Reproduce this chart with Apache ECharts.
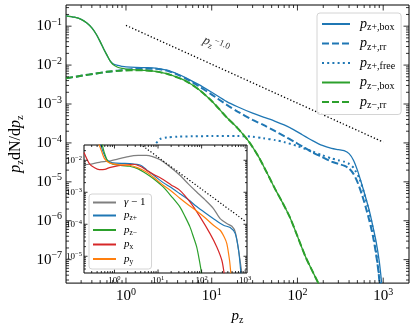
<!DOCTYPE html>
<html><head><meta charset="utf-8">
<script src="https://cdn.jsdelivr.net/npm/echarts@6/dist/echarts.min.js"></script>
<style>html,body{margin:0;padding:0;background:#fff}#c{width:415px;height:330px}</style>
</head><body><div id="c"></div>
<script>
// ---------- main panel data ----------
const boxPlusP = [0.2,0.25,0.3,0.35,0.4,0.45,0.5,0.55,0.6,0.65,0.7,0.8,0.9,1.0,1.3,1.7,2.2,3.0,4.0,5.0,7.0,10,15,20,30,40,55,70,90,115,150,195,250,300,350,400,450,500,560,620,690,760,830,900,960];
const boxPlusY = [0.185,0.17,0.15,0.12,0.09,0.062,0.04,0.026,0.018,0.013,0.011,0.0098,0.0093,0.009,0.0087,0.0086,0.0084,0.0074,0.0059,0.0047,0.0032,0.002,0.00115,8.5e-4,5.8e-4,4.6e-4,3.6e-4,2.9e-4,2.2e-4,1.6e-4,1.15e-4,8.6e-5,7.2e-5,6.7e-5,6.3e-5,5.3e-5,3.6e-5,2.0e-5,9e-6,4.2e-6,1.8e-6,7e-7,2.8e-7,9e-8,2.5e-8];
const rrPlusP = [0.2,0.3,0.45,0.6,0.8,1.0,1.3,1.7,2.2,3.0,4.0,5.0,7.0,10,15,20,30,40,55,70,90,115,150,195,250,300,350,400,450,500,560,620,690,760,830,880,910];
const rrPlusY = [0.0046,0.0053,0.0061,0.0067,0.0072,0.0076,0.008,0.0081,0.008,0.0072,0.0057,0.0045,0.0029,0.00175,9.5e-4,6.4e-4,3.9e-4,2.9e-4,2.0e-4,1.5e-4,1.1e-4,8e-5,5.7e-5,4.3e-5,3.3e-5,2.9e-5,2.6e-5,2.2e-5,1.6e-5,1.0e-5,5e-6,2.4e-6,1.0e-6,4e-7,1.3e-7,5e-8,2.4e-8];
const freePlusP = [1,1.5,2,2.5,3,4,6,10,20,30,40,55,70,100,150,195,250,300,350,400,450,530,600,680,760,830,880,920];
const freePlusY = [2e-6,2e-5,7e-5,1.25e-4,1.38e-4,1.45e-4,1.48e-4,1.5e-4,1.5e-4,1.45e-4,1.32e-4,1.18e-4,1.05e-4,8.3e-5,6e-5,4.8e-5,4e-5,3.6e-5,3.3e-5,2.9e-5,2.3e-5,1.2e-5,5e-6,1.8e-6,6e-7,1.5e-7,5.5e-8,2.4e-8];
const boxMinusP = [0.2,0.25,0.3,0.35,0.4,0.45,0.5,0.55,0.6,0.65,0.7,0.8,0.9,1.0,1.3,1.7,2.2,3.0,4.0,5.0,7.0,10,15,20,27,35,43,55,65,82,100,125,150,180];
const boxMinusY = [0.185,0.17,0.15,0.12,0.09,0.062,0.04,0.026,0.018,0.013,0.0105,0.0088,0.0082,0.0079,0.0075,0.0073,0.0069,0.006,0.0048,0.0039,0.0024,0.0012,4.5e-4,2.4e-4,1.1e-4,4.5e-5,1.9e-5,6.5e-6,3.3e-6,1.2e-6,4e-7,1.15e-7,5e-8,2.2e-8];
const rrMinusP = [0.2,0.3,0.45,0.6,0.8,1.0,1.3,1.7,2.2,3.0,4.0,5.0,7.0,10,15,20,27,35,43,55,65,82,100,125,150,180];
const rrMinusY = [0.0046,0.0053,0.0061,0.0067,0.0071,0.0073,0.0074,0.0073,0.0069,0.006,0.0048,0.0039,0.0024,0.0012,4.5e-4,2.4e-4,1.1e-4,4.5e-5,1.9e-5,6.5e-6,3.3e-6,1.2e-6,4e-7,1.15e-7,5e-8,2.2e-8];
const refP = [1, 1000];
const refY = [0.105, 1.05e-4];

// ---------- inset data ----------
const gammaP = [0.2,0.265,0.45,0.77,1.3,2.22,3.5,5.4,7.5,10.9,18,31.7,50,77,120,187,266,379,495,591,705,841];
const gammaY = [7.2e-3,7.5e-3,8.65e-3,9.5e-3,0.0112,0.0133,0.0142,0.0143,0.013,0.0105,6.5e-3,3.4e-3,1.8e-3,1.02e-3,5.8e-4,3.1e-4,1.5e-4,1.05e-4,8.65e-5,5.75e-5,1.54e-5,2.9e-6];
const zPlusP = [0.2,0.3,0.4,0.45,0.55,0.67,0.8,0.92,1.5,2.22,4,5.4,8,13.1,20,31.7,50,77,120,187,318,453,591,705,798];
const zPlusY = [0.18,0.15,0.07,0.042,0.018,0.0103,0.0088,0.0083,0.008,0.0079,0.007,0.0051,0.0034,0.002,0.0014,9e-4,5.8e-4,3.6e-4,2.3e-4,1.5e-4,9.3e-5,7.9e-5,5.1e-5,1.54e-5,2.9e-6];
const zMinusP = [0.2,0.3,0.4,0.49,0.58,0.7,0.92,1.5,2.22,3.5,5.4,8,13.1,20,31.7,42,54,65,77,88,100];
const zMinusY = [0.18,0.15,0.08,0.042,0.018,0.0095,0.0075,0.0068,0.0065,0.0054,0.0038,0.0026,0.00147,7.6e-4,3.5e-4,1.7e-4,8.3e-5,4e-5,1.96e-5,8e-6,2.9e-6];
const pxP = [0.2,0.265,0.35,0.45,0.6,0.77,1.1,1.56,2.65,4,5.4,8,13.1,20,31.7,54,92,156,223,291,329];
const pxY = [0.0175,0.0079,0.0058,0.0051,0.0052,0.0059,0.0066,0.007,0.0075,0.0064,0.0049,0.0036,0.0025,0.0017,0.00115,5e-4,1.7e-4,5.1e-5,1.96e-5,7.5e-6,2.9e-6];
const pyP = [0.2,0.3,0.35,0.41,0.5,0.59,0.77,1.2,2.22,3.5,5.4,8,13.1,20,31.7,50,77,120,187,266,330,379,437,469];
const pyY = [0.25,0.15,0.08,0.042,0.02,0.0113,0.0083,0.0073,0.007,0.0058,0.0043,0.0029,0.00166,0.0011,6.5e-4,4e-4,2.6e-4,1.6e-4,9.3e-5,6.5e-5,4e-5,2.5e-5,7.5e-6,2.9e-6];
const insetRefP = [1, 1000];
const insetRefY = [0.125, 1.25e-4];

// axis ranges
const mainXRange = [0.2, 2000], mainYRange = [2.5e-8, 0.35];
const insetXRange = [0.2, 1100], insetYRange = [3e-6, 0.03];

const F = 'Liberation Serif';
const BLUE = '#1f77b4', GREEN = '#2ca02c', RED = '#d62728', ORANGE = '#ff7f0e', GRAY = '#7f7f7f';

const zip = (a, b) => a.map((v, i) => [v, b[i]]);

function powLabel(v) {
  const l = Math.log10(v), e = Math.round(l);
  if (Math.abs(l - e) > 1e-6) return '';
  return '{b|10}{s|' + (e < 0 ? '\u2212' + (-e) : e) + '}';
}
const mainRich = {
  b: {fontFamily: F, fontSize: 15, lineHeight: 18, color: '#000'},
  s: {fontFamily: F, fontSize: 10, lineHeight: 10, verticalAlign: 'top', color: '#000'}
};
const insetRich = {
  b: {fontFamily: F, fontSize: 9, lineHeight: 11, color: '#000'},
  s: {fontFamily: F, fontSize: 6.5, lineHeight: 6, verticalAlign: 'top', color: '#000'}
};
const mathRich = (size, sub) => ({
  i: {fontFamily: F, fontStyle: 'italic', fontSize: size, lineHeight: size + 3, color: '#000'},
  r: {fontFamily: F, fontSize: size, lineHeight: size + 3, color: '#000'},
  s: {fontFamily: F, fontSize: sub, lineHeight: sub, verticalAlign: 'bottom', color: '#000'}
});

function decadeTicks(lo, hi) {
  const major = [], minor = [];
  for (let e = Math.floor(Math.log10(lo)) - 1; e <= Math.ceil(Math.log10(hi)); e++) {
    for (let k = 1; k <= 9; k++) {
      const v = k * Math.pow(10, e);
      if (v > lo * 1.0001 && v < hi * 0.9999) (k === 1 ? major : minor).push(v);
    }
  }
  return {major, minor};
}
function tickSeries(gi, xr, yr, majL, minL, z) {
  const xt = decadeTicks(xr[0], xr[1]), yt = decadeTicks(yr[0], yr[1]);
  const data = [];
  xt.major.forEach(v => data.push([v, yr[0], 0, 1]));
  xt.minor.forEach(v => data.push([v, yr[0], 0, 0]));
  yt.major.forEach(v => data.push([xr[0], v, 1, 1]));
  yt.minor.forEach(v => data.push([xr[0], v, 1, 0]));
  return {
    type: 'custom', xAxisIndex: gi, yAxisIndex: gi, z: z, silent: true, clip: false,
    data: data, encode: {x: 0, y: 1},
    renderItem: function (params, api) {
      const kind = api.value(2), L = api.value(3) ? majL : minL;
      const st = {stroke: '#000', lineWidth: 0.8};
      if (kind === 0) {
        const v = api.value(0);
        const a = api.coord([v, yr[0]]), b = api.coord([v, yr[1]]);
        return {type: 'group', children: [
          {type: 'line', shape: {x1: a[0], y1: a[1], x2: a[0], y2: a[1] - L}, style: st},
          {type: 'line', shape: {x1: b[0], y1: b[1], x2: b[0], y2: b[1] + L}, style: st}]};
      } else {
        const v = api.value(1);
        const a = api.coord([xr[0], v]), b = api.coord([xr[1], v]);
        return {type: 'group', children: [
          {type: 'line', shape: {x1: a[0], y1: a[1], x2: a[0] + L, y2: a[1]}, style: st},
          {type: 'line', shape: {x1: b[0], y1: b[1], x2: b[0] - L, y2: b[1]}, style: st}]};
      }
    }
  };
}

function lineS(name, gi, p, y, color, width, type, z) {
  return {
    name: name, type: 'line', xAxisIndex: gi, yAxisIndex: gi, data: zip(p, y),
    showSymbol: false, symbol: 'none', smooth: 0.25, z: z,
    lineStyle: {color: color, width: width, type: type || 'solid', cap: 'butt'},
    itemStyle: {color: color}, emphasis: {disabled: true}
  };
}

const mainLegendText = {
  'pz+,box': '{i|p}{s|z+,box}', 'pz+,rr': '{i|p}{s|z+,rr}', 'pz+,free': '{i|p}{s|z+,free}',
  'pz\u2212,box': '{i|p}{s|z\u2212,box}', 'pz\u2212,rr': '{i|p}{s|z\u2212,rr}'
};
const insetLegendText = {
  'g1': '{i|\u03b3}{r| \u2212 1}', 'zp': '{i|p}{s|z+}', 'zm': '{i|p}{s|z\u2212}', 'px': '{i|p}{s|x}', 'py': '{i|p}{s|y}'
};

const chart = echarts.init(document.getElementById('c'), null, {renderer: 'canvas'});
chart.setOption({
  animation: false,
  backgroundColor: '#fff',
  grid: [
    {left: 60, top: 5, width: 349, height: 282, show: true, borderColor: '#000', borderWidth: 1, backgroundColor: 'transparent'},
    {left: 84, top: 145, width: 163, height: 128, show: true, borderColor: '#000', borderWidth: 1, backgroundColor: '#fff', z: 5}
  ],
  xAxis: [
    {gridIndex: 0, type: 'log', logBase: 10, min: mainXRange[0], max: mainXRange[1],
     axisLine: {show: false}, axisTick: {show: false}, splitLine: {show: false}, minorTick: {show: false},
     axisLabel: {formatter: powLabel, rich: mainRich, margin: 4, interval: 0},
     name: '{i|p}{s|z}', nameLocation: 'middle', nameGap: 21, nameTextStyle: {rich: mathRich(15, 10)}},
    {gridIndex: 1, type: 'log', logBase: 10, min: insetXRange[0], max: insetXRange[1], z: 6,
     axisLine: {show: false}, axisTick: {show: false}, splitLine: {show: false}, minorTick: {show: false},
     axisLabel: {formatter: powLabel, rich: insetRich, margin: 2, interval: 0}}
  ],
  yAxis: [
    {gridIndex: 0, type: 'log', logBase: 10, min: mainYRange[0], max: mainYRange[1],
     axisLine: {show: false}, axisTick: {show: false}, splitLine: {show: false}, minorTick: {show: false},
     axisLabel: {formatter: powLabel, rich: mainRich, margin: 4, interval: 0},
     name: '{i|p}{s|z}{r|dN/d}{i|p}{s|z}', nameLocation: 'middle', nameRotate: 90, nameGap: 35,
     nameTextStyle: {rich: mathRich(16, 10.5)}},
    {gridIndex: 1, type: 'log', logBase: 10, min: insetYRange[0], max: insetYRange[1], z: 6,
     axisLine: {show: false}, axisTick: {show: false}, splitLine: {show: false}, minorTick: {show: false},
     axisLabel: {formatter: powLabel, rich: insetRich, margin: 2, interval: 0}}
  ],
  legend: [
    {data: ['pz+,box', 'pz+,rr', 'pz+,free', 'pz\u2212,box', 'pz\u2212,rr'],
     orient: 'vertical', left: 317, top: 13, itemWidth: 28, itemHeight: 10, itemGap: 4,
     padding: [4, 6, 4, 4], backgroundColor: 'rgba(255,255,255,0.8)', borderColor: '#d4d4d4', borderWidth: 1, borderRadius: 3,
     formatter: n => mainLegendText[n], selectedMode: false, z: 8,
     itemStyle: {opacity: 0},
     textStyle: {padding: [0, 0, 0, 5], rich: mathRich(14, 10)}},
    {data: ['g1', 'zp', 'zm', 'px', 'py'],
     orient: 'vertical', left: 89, top: 194, itemWidth: 23, itemHeight: 8, itemGap: 2,
     padding: [3, 6, 3, 3], backgroundColor: 'rgba(255,255,255,0.8)', borderColor: '#d4d4d4', borderWidth: 1, borderRadius: 3,
     formatter: n => insetLegendText[n], selectedMode: false, z: 9,
     itemStyle: {opacity: 0},
     lineStyle: {width: 2}, textStyle: {padding: [0, 0, 0, 3], rich: mathRich(11, 7.5)}}
  ],
  graphic: [
    {type: 'text', x: 216, y: 45, rotation: -0.42, z: 4,
     style: {text: '{i|p}{sb|z}{sp|\u22121.0}', align: 'center', verticalAlign: 'middle',
       rich: {
         i: {fontFamily: F, fontStyle: 'italic', fontSize: 13, lineHeight: 16, fill: '#333'},
         sb: {fontFamily: F, fontSize: 9, lineHeight: 9, verticalAlign: 'bottom', fill: '#333'},
         sp: {fontFamily: F, fontSize: 9, lineHeight: 9, verticalAlign: 'top', fill: '#333'}
       }}}
  ],
  series: [
    lineS('pz+,box', 0, boxPlusP, boxPlusY, BLUE, 1.3, 'solid', 2),
    lineS('pz+,rr', 0, rrPlusP, rrPlusY, BLUE, 2, [7, 3], 2),
    lineS('pz+,free', 0, freePlusP, freePlusY, BLUE, 2, [2, 3.2], 2),
    lineS('pz\u2212,box', 0, boxMinusP, boxMinusY, GREEN, 1.3, 'solid', 2),
    lineS('pz\u2212,rr', 0, rrMinusP, rrMinusY, GREEN, 2, [7, 3], 2),
    lineS('ref', 0, refP, refY, '#000', 1.3, [1.3, 2.1], 2),
    tickSeries(0, mainXRange, mainYRange, 5.5, 3, 3),
    lineS('g1', 1, gammaP, gammaY, GRAY, 1.2, 'solid', 6),
    lineS('zp', 1, zPlusP, zPlusY, BLUE, 1.2, 'solid', 6),
    lineS('zm', 1, zMinusP, zMinusY, GREEN, 1.2, 'solid', 6),
    lineS('px', 1, pxP, pxY, RED, 1.2, 'solid', 6),
    lineS('py', 1, pyP, pyY, ORANGE, 1.2, 'solid', 6),
    lineS('insetRef', 1, insetRefP, insetRefY, '#000', 1.2, [1.2, 2], 6),
    tickSeries(1, insetXRange, insetYRange, 3.5, 2, 7)
  ]
});
</script></body></html>
